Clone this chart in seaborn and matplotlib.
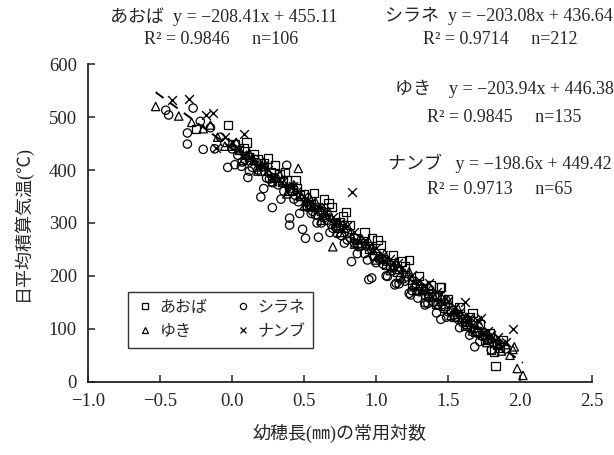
import matplotlib
matplotlib.use("Agg")
import matplotlib.pyplot as plt
import numpy as np
import pandas as pd
import seaborn as sns

# values (x = log10 of panicle length, y = accumulated temperature)
aoba_x = [-0.25, -0.03, 0.02, 0.05, 0.08, 0.12, 0.15, 0.18, 0.22, 0.27, 0.30, 0.33, 0.35, 0.38,
          0.42, 0.45, 0.47, 0.50, 0.55, 0.58, 0.62, 0.64, 0.67, 0.72, 0.75, 0.79, 0.85, 0.90,
          0.95, 0.97, 1.01, 1.05, 1.10, 1.15, 1.18, 1.23, 1.28, 1.32, 1.36, 1.40, 1.44, 1.45,
          1.48, 1.52, 1.56, 1.60, 1.63, 1.67, 1.70, 1.74, 1.77, 1.80, 1.82, 1.83, 1.86, 1.88,
          0.10, 0.20, 0.25, 0.28, 0.37, 0.40, 0.44, 0.52, 0.57, 0.60, 0.69, 0.74, 0.77, 0.82,
          0.87, 0.92, 0.99, 1.03, 1.07, 1.12, 1.20, 1.25, 1.30, 1.34, 1.38, 1.42, 1.50, 1.54,
          1.58, 1.62, 1.65, 1.69, 1.72, 1.76, 1.79, 1.84]
aoba_y = [478, 485, 448, 438, 442, 425, 430, 420, 412, 395, 409, 392, 378, 380,
          362, 365, 352, 355, 336, 330, 322, 344, 337, 300, 302, 321, 272, 262,
          252, 271, 268, 232, 220, 208, 227, 230, 184, 176, 168, 160, 178, 179,
          143, 136, 128, 118, 110, 130, 96, 88, 82, 60, 57, 30, 65, 78,
          452, 398, 422, 385, 396, 360, 381, 335, 356, 318, 330, 290, 312, 296,
          262, 282, 238, 258, 220, 240, 218, 185, 200, 165, 182, 148, 156, 122,
          140, 105, 122, 95, 108, 80, 92, 70]

shirane_x = [-0.46, -0.44, -0.31, -0.31, -0.27, -0.22, -0.20, -0.15, -0.08, -0.03, 0.00, 0.04,
             0.065, 0.07, 0.09, 0.11, 0.14, 0.18, 0.20, 0.24, 0.26, 0.28, 0.28, 0.32, 0.36,
             0.38, 0.40, 0.40, 0.43, 0.46, 0.49, 0.51, 0.52, 0.55, 0.56, 0.58, 0.60, 0.62,
             0.66, 0.69, 0.70, 0.73, 0.76, 0.80, 0.83, 0.85, 0.88, 0.92, 0.95, 0.97, 0.98,
             1.00, 1.02, 1.05, 1.08, 1.10, 1.13, 1.14, 1.17, 1.20, 1.23, 1.24, 1.25, 1.27,
             1.30, 1.34, 1.34, 1.37, 1.40, 1.43, 1.45, 1.47, 1.50, 1.54, 1.55, 1.57, 1.60,
             1.63, 1.66, 1.685, 1.70, 1.74, 1.78, 1.82, 1.86, 1.90,
             -0.12, -0.05, 0.02, 0.12, 0.16, 0.22, 0.30, 0.34, 0.44, 0.47, 0.54, 0.59, 0.64,
             0.68, 0.72, 0.78, 0.82, 0.87, 0.90, 0.94, 1.04, 1.07, 1.12, 1.16, 1.21, 1.29,
             1.32, 1.36, 1.39, 1.42, 1.46, 1.49, 1.52, 1.58, 1.62, 1.65, 1.68, 1.72, 1.76,
             1.80, 1.84]
shirane_y = [513, 504, 470, 449, 517, 492, 439, 480, 462, 405, 440, 428,
             407, 415, 420, 386, 405, 400, 349, 385, 383, 329, 376, 372, 360,
             409, 309, 296, 345, 340, 288, 271, 330, 318, 322, 315, 273, 300,
             305, 297, 290, 280, 276, 268, 227, 262, 255, 242, 193, 196, 238,
             225, 232, 222, 199, 215, 183, 186, 196, 190, 167, 164, 172, 180,
             170, 145, 149, 160, 150, 146, 118, 138, 132, 126, 122, 118, 112,
             105, 100, 66, 92, 86, 78, 72, 70, 62,
             440, 452, 410, 398, 420, 365, 385, 345, 352, 318, 330, 300, 310,
             282, 292, 262, 272, 242, 258, 230, 232, 200, 215, 185, 198, 158,
             175, 148, 160, 130, 146, 122, 132, 102, 114, 88, 100, 76, 84,
             60, 70]

yuki_x = [-0.53, -0.37, -0.20, -0.10, 0.00, 0.05, 0.10, 0.15, 0.20, 0.25, 0.30, 0.35, 0.40,
          0.46, 0.48, 0.52, 0.56, 0.58, 0.60, 0.65, 0.70, 0.72, 0.78, 0.82, 0.88, 0.90, 0.93,
          0.98, 1.03, 1.08, 1.12, 1.16, 1.20, 1.25, 1.30, 1.33, 1.35, 1.40, 1.45, 1.50, 1.55,
          1.60, 1.62, 1.65, 1.70, 1.75, 1.80, 1.85, 1.90, 1.93, 1.95, 1.96, 1.98, 2.02,
          -0.28, -0.15, -0.05, 0.03, 0.08, 0.12, 0.18, 0.22, 0.28, 0.33, 0.38, 0.43, 0.50,
          0.54, 0.62, 0.67, 0.75, 0.80, 0.85, 0.95, 1.00, 1.06, 1.10, 1.14, 1.18, 1.23,
          1.28, 1.38, 1.43, 1.48, 1.52, 1.57, 1.67, 1.72, 1.77, 1.82, 1.87]
yuki_y = [520, 502, 478, 462, 445, 440, 428, 418, 406, 398, 386, 380, 366,
          403, 350, 340, 332, 340, 325, 315, 255, 300, 290, 280, 268, 270, 258,
          248, 236, 228, 218, 212, 205, 192, 182, 178, 172, 162, 152, 155, 134,
          122, 120, 112, 102, 94, 82, 72, 70, 50, 61, 66, 25, 12,
          490, 485, 445, 452, 418, 432, 398, 415, 378, 392, 355, 372, 332,
          348, 305, 322, 282, 296, 260, 265, 230, 242, 210, 226, 195, 208,
          172, 175, 145, 156, 125, 138, 96, 108, 74, 86, 58]

nanbu_x = [-0.42, -0.30, -0.18, -0.13, -0.11, 0.00, 0.05, 0.08, 0.12, 0.20, 0.25, 0.30, 0.35,
           0.40, 0.45, 0.50, 0.55, 0.60, 0.65, 0.70, 0.75, 0.83, 0.85, 0.92, 1.00, 1.05, 1.10,
           1.18, 1.25, 1.30, 1.37, 1.42, 1.50, 1.55, 1.62, 1.65, 1.73, 1.78, 1.85, 1.95,
           -0.05, 0.15, 0.22, 0.32, 0.42, 0.52, 0.62, 0.72, 0.80, 0.95, 1.15, 1.33, 1.45,
           1.58, 1.70, 1.80, 1.90]
nanbu_y = [533, 535, 504, 507, 441, 452, 440, 468, 425, 410, 400, 388, 378,
           370, 360, 350, 340, 330, 320, 312, 300, 359, 282, 268, 252, 240, 232,
           215, 202, 192, 186, 170, 152, 142, 151, 122, 120, 96, 85, 99,
           462, 415, 410, 382, 370, 342, 330, 302, 294, 256, 225, 180, 165,
           132, 116, 88, 76]

varieties = ["あおば", "シラネ", "ゆき", "ナンブ"]
fit_text = ["y = \u2212208.41x + 455.11", "y = \u2212203.08x + 436.64",
            "y = \u2212203.94x + 446.38", "y = \u2212198.6x + 449.42"]
r2_text = ["R\u00b2 = 0.9846     n=106", "R\u00b2 = 0.9714     n=212",
           "R\u00b2 = 0.9845     n=135", "R\u00b2 = 0.9713     n=65"]

sns.set_style("ticks")
plt.rcParams["font.family"] = ["Liberation Serif", "Noto Sans CJK JP"]
plt.rcParams["xtick.direction"] = "in"
plt.rcParams["ytick.direction"] = "in"
plt.rcParams["axes.unicode_minus"] = True

fig = plt.figure(figsize=(6.14, 4.55), dpi=100)
ax = fig.add_axes([0.1433, 0.161, 0.821, 0.698])

series = [(aoba_x, aoba_y, "s"), (shirane_x, shirane_y, "o"),
          (yuki_x, yuki_y, "^"), (nanbu_x, nanbu_y, "x")]
handles = {}
for (xs, ys, mk), name in zip(series, varieties):
    if mk == "x":
        sns.scatterplot(x=xs, y=ys, marker="x", s=40, color="black", linewidth=1.0, ax=ax)
    else:
        sns.scatterplot(x=xs, y=ys, marker=mk, s=36, facecolor="none", edgecolor="black",
                        linewidth=0.9, ax=ax)
    handles[name] = plt.Line2D([], [], ls="none", marker=mk, ms=4.5, mfc="none",
                               mec="black", mew=0.9)

# pooled regression line (dashed)
all_df = pd.DataFrame({"x": aoba_x + shirane_x + yuki_x + nanbu_x,
                       "y": aoba_y + shirane_y + yuki_y + nanbu_y})
sns.regplot(data=all_df, x="x", y="y", scatter=False, ci=None, ax=ax,
            line_kws=dict(color="black", lw=1.4, ls=(0, (5, 4))))

ax.set_xlim(-1.0, 2.5)
ax.set_ylim(0, 600)
ax.set_xticks(np.arange(-1.0, 2.51, 0.5))
ax.set_yticks(np.arange(0, 601, 100))
sns.despine(ax=ax)
for sp in ["left", "bottom"]:
    ax.spines[sp].set_linewidth(1.3)
    ax.spines[sp].set_color("#222222")
ax.tick_params(labelsize=13.5, length=5, width=1.1, pad=8, color="#222222")
ax.set_xlabel("幼穂長(㎜)の常用対数", fontsize=13, labelpad=10)
ax.set_ylabel("日平均積算気温(℃)", fontsize=13, labelpad=12)

order = ["あおば", "ゆき", "シラネ", "ナンブ"]
leg = ax.legend([handles[k] for k in order], order, ncol=2, loc="upper left",
                bbox_to_anchor=(0.063, 0.309), frameon=True, fancybox=False,
                fontsize=11.5, handletextpad=0.3, columnspacing=1.6,
                borderpad=0.5, handlelength=1.2, labelspacing=0.5)
leg.get_frame().set_edgecolor("black")
leg.get_frame().set_linewidth(1.0)

pos = [(224, 17, 221, 40), (499, 16, 500, 39), (504, 89, 504, 117), (500, 163, 500, 189)]
gaps = ["  ", "  ", "    ", "   "]
for name, ft, rt, (x1, y1, x2, y2), g in zip(varieties, fit_text, r2_text, pos, gaps):
    fig.text(x1 / 614, 1 - y1 / 455, name + g + ft, ha="center", va="center", fontsize=13)
    fig.text(x2 / 614, 1 - y2 / 455, rt, ha="center", va="center", fontsize=13)

fig.savefig("out.png", dpi=100)
